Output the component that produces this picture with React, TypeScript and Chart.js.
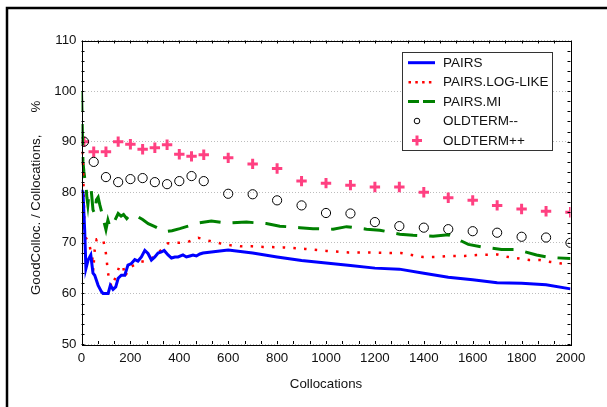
import React, { useEffect, useRef } from "react";
import { Chart, registerables } from "chart.js";

Chart.register(...registerables);

// ---------- data ----------
const xTickValues = [0, 200, 400, 600, 800, 1000, 1200, 1400, 1600, 1800, 2000];
const yTickValues = [50, 60, 70, 80, 90, 100, 110];

const pairsX = [0, 6, 13, 18, 27, 38, 47, 54, 68, 82, 88, 109, 118, 129, 140, 150, 163, 177, 190, 204, 218, 231, 245, 259, 272, 286, 300, 313, 327, 338, 354, 368, 382, 395, 415, 429, 443, 456, 470, 484, 497, 600, 700, 800, 900, 1000, 1100, 1200, 1300, 1400, 1500, 1600, 1700, 1800, 1900, 2000];
const pairsY = [80.5, 80.0, 72.5, 64.9, 66.6, 67.6, 64.0, 63.6, 61.6, 60.3, 60.0, 60.0, 61.6, 60.8, 61.3, 63.0, 63.6, 63.6, 65.6, 65.9, 66.7, 66.4, 67.2, 68.5, 67.9, 66.6, 67.2, 68.0, 68.2, 68.5, 67.6, 67.0, 67.2, 67.2, 67.6, 67.2, 67.4, 67.6, 67.4, 67.8, 68.0, 68.6, 68.0, 67.2, 66.5, 66.0, 65.5, 65.0, 64.8, 64.0, 63.2, 62.7, 62.1, 62.0, 61.7, 60.9];

const logLikeX = [3, 6, 8, 10, 12, 18, 31, 40, 46, 48, 54, 62, 88, 98, 103, 107, 114, 124, 140, 156, 170, 177, 190, 204, 238, 279, 317, 354, 395, 436, 477, 522, 566, 611, 654, 699, 743, 825, 914, 1002, 1091, 1173, 1261, 1306, 1350, 1397, 1445, 1500, 1568, 1616, 1701, 1745, 1790, 1831, 1875, 1920, 1964, 2000];
const logLikeY = [88.0, 85.5, 82.0, 77.5, 72.5, 71.0, 69.9, 67.9, 66.6, 64.5, 68.6, 70.7, 70.7, 68.6, 66.6, 64.6, 62.3, 61.3, 63.3, 65.5, 65.5, 63.3, 64.5, 65.3, 66.2, 66.6, 68.2, 69.9, 70.0, 70.2, 71.0, 70.4, 69.9, 69.5, 69.3, 69.3, 69.2, 69.1, 68.8, 68.4, 68.1, 68.1, 68.0, 68.0, 67.6, 67.2, 67.2, 67.4, 67.4, 67.6, 67.7, 67.2, 66.9, 66.6, 66.6, 66.2, 65.9, 65.8];

const miX = [0, 2, 4, 6, 10, 14, 18, 22, 26, 32, 40, 47, 54, 61, 68, 75, 82, 90, 100, 108, 114, 122, 130, 150, 162, 172, 185, 198, 225, 250, 273, 300, 341, 370, 402, 429, 477, 531, 600, 675, 756, 811, 893, 947, 1029, 1084, 1166, 1220, 1302, 1356, 1438, 1500, 1582, 1636, 1718, 1779, 1861, 1916, 2000];
const miY = [100.0, 96.0, 91.0, 86.0, 84.0, 82.5, 81.5, 79.0, 77.5, 80.5, 80.3, 76.5, 75.8, 78.5, 79.0, 77.5, 76.2, 74.5, 72.6, 74.5, 73.5, 74.2, 73.8, 75.8, 75.3, 75.6, 74.8, 75.5, 75.3, 74.6, 73.8, 73.2, 72.2, 72.4, 72.8, 73.2, 73.9, 74.3, 73.9, 74.1, 73.8, 73.3, 73.0, 72.8, 72.7, 73.2, 72.7, 72.5, 71.7, 71.5, 71.3, 71.6, 69.7, 69.2, 68.7, 68.7, 67.6, 67.1, 66.9];

const oldTermX = [10, 50, 100, 150, 200, 250, 300, 350, 400, 450, 500, 600, 700, 800, 900, 1000, 1100, 1200, 1300, 1400, 1500, 1600, 1700, 1800, 1900, 2000];
const oldTermMinusY = [90.0, 86.0, 83.0, 82.0, 82.6, 82.8, 82.0, 81.6, 82.2, 83.2, 82.2, 79.7, 79.6, 78.4, 77.4, 75.9, 75.8, 74.1, 73.3, 73.0, 72.7, 72.3, 72.0, 71.2, 71.05, 70.0];
const oldTermPlusY = [90.0, 88.0, 88.0, 90.0, 89.5, 88.5, 88.8, 89.4, 87.5, 87.1, 87.4, 86.8, 85.6, 84.7, 82.2, 81.8, 81.4, 81.05, 81.05, 80.0, 78.9, 78.4, 77.4, 76.7, 76.25, 76.05];

const seriesNames = ["PAIRS", "PAIRS.LOG-LIKE", "PAIRS.MI", "OLDTERM--", "OLDTERM++"];

const FONT = "'Liberation Sans', Arial, sans-serif";
const BLUE = "#0000ff";
const RED = "#ff0000";
const GREEN = "#008000";
const PINK = "#ff4081";

const pts = (xs: number[], ys: number[]) => xs.map((x, i) => ({ x, y: ys[i] }));

const decorPlugin = {
  id: "decor",
  beforeDraw(chart: any) {
    const { ctx, width, height } = chart;
    ctx.save();
    ctx.fillStyle = "#ffffff";
    ctx.fillRect(0, 0, width, height);
    ctx.restore();
  },
  afterDraw(chart: any) {
    const { ctx, chartArea: a, scales } = chart;
    const xs = scales.x;
    const ys = scales.y;
    ctx.save();
    // plot frame
    ctx.strokeStyle = "#000";
    ctx.lineWidth = 1;
    ctx.strokeRect(Math.round(a.left) + 0.5, Math.round(a.top) + 0.5, Math.round(a.right - a.left), Math.round(a.bottom - a.top));
    // inner ticks
    ctx.beginPath();
    for (let k = 0; k <= 30; k++) {
      const v = (2000 * k) / 30;
      const px = Math.round(xs.getPixelForValue(v)) + 0.5;
      ctx.moveTo(px, a.bottom);
      ctx.lineTo(px, a.bottom - 3);
      ctx.moveTo(px, a.top);
      ctx.lineTo(px, a.top + 3);
    }
    for (let v = 50; v <= 110; v += 2) {
      const py = Math.round(ys.getPixelForValue(v)) + 0.5;
      ctx.moveTo(a.left, py);
      ctx.lineTo(a.left + 3, py);
      ctx.moveTo(a.right, py);
      ctx.lineTo(a.right - 3, py);
    }
    ctx.stroke();

    // outer frame (left and top)
    ctx.lineWidth = 2.5;
    ctx.beginPath();
    ctx.moveTo(7, chart.height);
    ctx.lineTo(7, 8);
    ctx.lineTo(chart.width, 8);
    ctx.stroke();

    // legend
    const bx = 402.5, by = 52.5, bw = 150, bh = 98;
    ctx.fillStyle = "#fff";
    ctx.fillRect(bx, by, bw, bh);
    ctx.strokeStyle = "#333";
    ctx.lineWidth = 1;
    ctx.strokeRect(bx, by, bw, bh);
    const rows = [62.7, 82.2, 101.6, 121, 140.4];
    ctx.font = `13.5px ${FONT}`;
    ctx.textBaseline = "middle";
    ctx.textAlign = "left";
    rows.forEach((ry, i) => {
      ctx.save();
      if (i === 0) {
        ctx.strokeStyle = BLUE; ctx.lineWidth = 3;
        ctx.beginPath(); ctx.moveTo(408, ry); ctx.lineTo(435, ry); ctx.stroke();
      } else if (i === 1) {
        ctx.fillStyle = RED;
        for (let d = 0; d < 4; d++) ctx.fillRect(408.5 + d * 6.8, ry - 1.2, 2.5, 2.5);
      } else if (i === 2) {
        ctx.strokeStyle = GREEN; ctx.lineWidth = 3;
        ctx.beginPath(); ctx.moveTo(408, ry); ctx.lineTo(419, ry); ctx.moveTo(423, ry); ctx.lineTo(435, ry); ctx.stroke();
      } else if (i === 3) {
        ctx.strokeStyle = "#000"; ctx.lineWidth = 1;
        ctx.beginPath(); ctx.arc(417, ry, 2.8, 0, Math.PI * 2); ctx.stroke();
      } else {
        ctx.strokeStyle = PINK; ctx.lineWidth = 3;
        ctx.beginPath(); ctx.moveTo(412, ry); ctx.lineTo(422, ry); ctx.moveTo(417, ry - 5); ctx.lineTo(417, ry + 5); ctx.stroke();
      }
      ctx.restore();
      ctx.fillStyle = "#111";
      ctx.fillText(seriesNames[i], 443, ry + 0.5);
    });
    ctx.restore();
  },
};

export default function App() {
  const ref = useRef<HTMLCanvasElement | null>(null);
  useEffect(() => {
    if (!ref.current) return;
    Chart.defaults.font.family = FONT;
    Chart.defaults.font.size = 13.3;
    Chart.defaults.color = "#111";
    const chart = new Chart(ref.current, {
      type: "scatter",
      data: {
        datasets: [
          {
            label: seriesNames[0],
            data: pts(pairsX, pairsY),
            showLine: true,
            borderColor: BLUE,
            backgroundColor: BLUE,
            borderWidth: 3,
            pointRadius: 0,
            tension: 0,
            clip: 0,
          },
          {
            label: seriesNames[1],
            data: pts(logLikeX, logLikeY),
            showLine: true,
            borderColor: RED,
            backgroundColor: RED,
            borderWidth: 2.5,
            borderDash: [2.5, 8.2],
            pointRadius: 0,
            tension: 0,
            clip: 0,
          },
          {
            label: seriesNames[2],
            data: pts(miX, miY),
            showLine: true,
            borderColor: GREEN,
            backgroundColor: GREEN,
            borderWidth: 3,
            borderDash: [21, 12],
            pointRadius: 0,
            tension: 0,
            clip: 0,
          },
          {
            label: seriesNames[3],
            data: pts(oldTermX, oldTermMinusY),
            showLine: false,
            pointStyle: "circle",
            pointRadius: 4.6,
            borderColor: "#000",
            backgroundColor: "rgba(0,0,0,0)",
            borderWidth: 1,
            clip: 0,
          },
          {
            label: seriesNames[4],
            data: pts(oldTermX, oldTermPlusY),
            showLine: false,
            pointStyle: "cross",
            pointRadius: 5.2,
            borderColor: PINK,
            backgroundColor: PINK,
            borderWidth: 3,
            clip: 0,
          },
        ],
      },
      options: {
        responsive: false,
        animation: false,
        devicePixelRatio: 1,
        layout: { padding: { left: 0, top: 40.5, right: 36.5, bottom: 0 } },
        plugins: { legend: { display: false }, tooltip: { enabled: false } },
        scales: {
          x: {
            type: "linear",
            min: 0,
            max: 2000,
            afterFit: (s: any) => { s.height = 63; },
            afterBuildTicks: (s: any) => { s.ticks = xTickValues.map((v) => ({ value: v })); },
            ticks: { padding: 6, maxRotation: 0, autoSkip: false, font: { size: 13.3 }, callback: (v: any) => String(v) },
            grid: { display: false, drawTicks: false },
            border: { display: false },
            title: { display: true, text: "Collocations", font: { size: 13.3 }, padding: { top: 0, bottom: 15 } },
          },
          y: {
            type: "linear",
            min: 50,
            max: 110,
            afterFit: (s: any) => { s.width = 81.5; },
            afterBuildTicks: (s: any) => { s.ticks = yTickValues.map((v) => ({ value: v })); },
            ticks: { padding: 5, autoSkip: false, font: { size: 13.3 }, callback: (v: any) => String(v) },
            grid: { display: true, drawTicks: false, color: "#bdbdbd", lineWidth: 1 },
            border: { display: false, dash: [1, 2] },
            title: { display: true, text: "GoodColloc. / Collocations,      %   ", font: { size: 13.3 }, padding: { top: 28, bottom: 0 } },
          },
        },
      },
      plugins: [decorPlugin],
    });
    return () => chart.destroy();
  }, []);
  return (
    <div style={{ position: "fixed", left: 0, top: 0, width: 607, height: 407, background: "#fff" }}>
      <canvas ref={ref} width={607} height={407} style={{ width: 607, height: 407, display: "block" }} />
    </div>
  );
}
